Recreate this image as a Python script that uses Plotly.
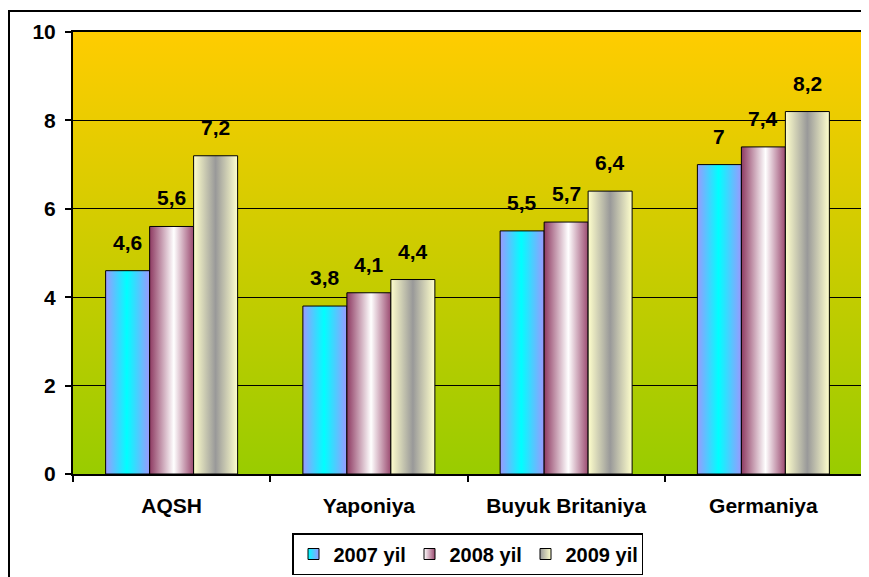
import base64
import plotly.graph_objects as go

categories = ["AQSH", "Yaponiya", "Buyuk Britaniya", "Germaniya"]
series_names = ["2007 yil", "2008 yil", "2009 yil"]
values_2007 = [4.6, 3.8, 5.5, 7.0]
values_2008 = [5.6, 4.1, 5.7, 7.4]
values_2009 = [7.2, 4.4, 6.4, 8.2]
y_ticks = [0, 2, 4, 6, 8, 10]

series_values = [values_2007, values_2008, values_2009]
gradients = [
    [[0, "#9A99FF"], [0.48, "#00FFFF"], [1, "#9A99FF"]],
    [[0, "#8E3A62"], [0.55, "#FFFFFF"], [1, "#9B4A70"]],
    [[0, "#FFFFCC"], [0.5, "#999999"], [1, "#FFFFCC"]],
]
legend_colors = [("#00FFFF", "#9A99FF"), ("#FFFFFF", "#9B4A70"), ("#999999", "#FFFFCC")]

FONT = "Liberation Sans, Arial, sans-serif"
FS = 21
bar_w = 0.223

fig = go.Figure()

for j, (name, vals, cs) in enumerate(zip(series_names, series_values, gradients)):
    for i, v in enumerate(vals):
        x0 = i + (j - 1.5) * bar_w
        x1 = x0 + bar_w
        fig.add_trace(go.Scatter(
            x=[x0, x0, x1, x1, x0], y=[0, v, v, 0, 0],
            mode="lines", fill="toself",
            fillgradient=dict(type="horizontal", colorscale=cs),
            line=dict(color="black", width=1),
            name=name, legendgroup=name, showlegend=False,
            hoverinfo="skip",
        ))
        fig.add_annotation(
            x=(x0 + x1) / 2, y=v, xref="x", yref="y",
            text=f"{v:g}".replace(".", ","), showarrow=False,
            yanchor="bottom", yshift=15,
            font=dict(family=FONT, size=FS, color="black", weight="bold"),
        )

# legend entries (small gradient squares)
for name, (c, gc) in zip(series_names, legend_colors):
    fig.add_trace(go.Scatter(
        x=[None], y=[None], mode="markers", name=name, legendgroup=name,
        marker=dict(symbol="square", size=11, color=c,
                    gradient=dict(type="horizontal", color=gc),
                    line=dict(color="black", width=1)),
        showlegend=True,
    ))

svg = ('<svg xmlns="http://www.w3.org/2000/svg" width="100" height="100" viewBox="0 0 100 100" '
       'preserveAspectRatio="none"><defs><linearGradient id="g" x1="0" y1="0" x2="0" y2="1">'
       '<stop offset="0" stop-color="#FFCC00"/><stop offset="1" stop-color="#99CC00"/>'
       '</linearGradient></defs><rect width="100" height="100" fill="url(#g)"/></svg>')
src = "data:image/svg+xml;base64," + base64.b64encode(svg.encode()).decode()

# page body has an 8px margin; plot area should span x 73..862, y 32..474 on the page
W, H = 861, 569
L, R, T, B = 65, 7, 24, 103
PW, PH = W - L - R, H - T - B

fig.update_layout(
    width=W, height=H,
    margin=dict(l=L, r=R, t=T, b=B, autoexpand=False),
    paper_bgcolor="white", plot_bgcolor="rgba(0,0,0,0)",
    font=dict(family=FONT, size=FS, color="black"),
    images=[dict(source=src, xref="paper", yref="paper", x=0, y=1, sizex=1, sizey=1,
                 xanchor="left", yanchor="top", sizing="stretch", layer="below")],
    showlegend=True,
    legend=dict(orientation="h", x=0.5, xanchor="center", y=-59 / PH, yanchor="top",
                bordercolor="black", borderwidth=1.5, bgcolor="white",
                font=dict(family=FONT, size=20, color="black", weight="bold"),
                itemwidth=30, traceorder="normal",
                entrywidth=71, entrywidthmode="pixels"),
    shapes=[dict(type="rect", xref="paper", yref="paper",
                 x0=(1 - L) / PW, x1=1.05, y0=-0.3, y1=(PH + T - 3) / PH,
                 line=dict(color="black", width=2), fillcolor="rgba(0,0,0,0)", layer="above")],
)

fig.update_xaxes(
    range=[-0.5, 3.5], tickvals=list(range(len(categories))), ticktext=categories,
    ticks="", showgrid=False, zeroline=False,
    showline=True, linecolor="black", linewidth=2, mirror=True,
    tickfont=dict(family=FONT, size=FS, color="black", weight="bold"),
    ticklabelstandoff=12,
    minor=dict(tickvals=[k - 0.5 for k in range(len(categories) + 1)], ticks="outside",
               ticklen=6, tickcolor="black", tickwidth=1.5, showgrid=False),
)
fig.update_yaxes(
    range=[0, 10], tickvals=y_ticks, ticks="outside", ticklen=6, tickcolor="black", tickwidth=1.5,
    showgrid=True, gridcolor="black", gridwidth=1, zeroline=False,
    showline=True, linecolor="black", linewidth=2, mirror=True,
    tickfont=dict(family=FONT, size=FS, color="black", weight="bold"),
    ticklabelstandoff=5,
)

fig.write_html("out.html")
